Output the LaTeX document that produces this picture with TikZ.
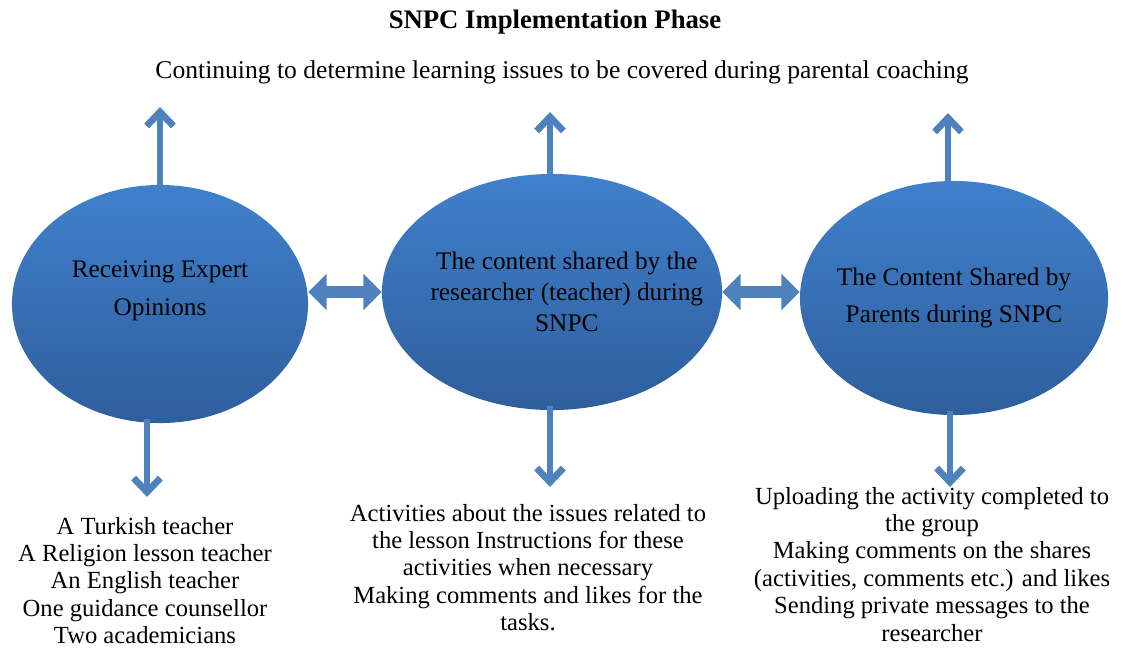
\documentclass[tikz,border=0pt]{standalone}
\usepackage{fontspec}
\setmainfont{Liberation Serif}
\usetikzlibrary{shapes, arrows.meta, positioning, calc}
\definecolor{Arrow}{RGB}{79, 129, 189}
\definecolor{BallTop}{RGB}{64, 128, 204}
\definecolor{BallBot}{RGB}{46, 94, 156}

\begin{document}
\begin{tikzpicture}[x=0.025cm, y=-0.025cm,
    ball/.style={ellipse, inner sep=0pt, top color=BallTop, bottom color=BallBot},
    balltext/.style={align=center, font=\fontsize{18}{#1}\selectfont},
    upline/.style={Arrow, line width=4.8pt, -{Straight Barb[width=19pt, length=10pt]}},
    dbl/.style={Arrow, line width=8.5pt, {Triangle[width=25pt, length=13pt]}-{Triangle[width=25pt, length=13pt]}},
    note/.style={align=center, anchor=north, font=\fontsize{17.5}{19.5}\selectfont}]
    \useasboundingbox (0,0) rectangle (1123,647);

    % heading
    \node (title) at (555, 22) {\fontsize{19}{22}\selectfont\textbf{SNPC Implementation Phase}};
    \node (issues) at (562, 72) {\fontsize{18.2}{20}\selectfont Continuing to determine learning issues to be covered during parental coaching};

    % the three phases
    \node[ball, minimum width=7.4cm, minimum height=5.95cm,
          label={[balltext=27pt, yshift=0.33cm]center:Receiving Expert\\Opinions}] (expert) at (160, 304) {};
    \node[ball, minimum width=8.5cm, minimum height=5.9cm,
          label={[balltext=22pt, xshift=0.37cm]center:The content shared by the\\researcher (teacher) during\\SNPC}] (teacher) at (552, 292) {};
    \node[ball, minimum width=7.7cm, minimum height=5.85cm,
          label={[balltext=26pt]center:The Content Shared by\\Parents during SNPC}] (parents) at (954, 298) {};

    \draw[dbl] (expert.east |- teacher.west) -- (teacher.west);
    \draw[dbl] (teacher.east) -- (parents.west |- teacher.east);

    % arrows up to the issues
    \coordinate (upA) at (160, 107);
    \coordinate (upB) at (550, 112);
    \coordinate (upC) at (948, 113);
    \draw[upline] (upA |- expert.north) -- (upA);
    \draw[upline] (upB |- teacher.north) -- (upB);
    \draw[upline] (upC |- parents.north) -- (upC);

    % what each phase holds
    \node[note] (experts) at (145, 512) {A Turkish teacher\\A Religion lesson teacher\\An English teacher\\One guidance counsellor\\Two academicians};
    \node[note] (tasks) at (528, 499) {Activities about the issues related to\\the lesson Instructions for these\\activities when necessary\\Making comments and likes for the\\tasks.};
    \node[note] (shares) at (932, 482) {Uploading the activity completed to\\the group\\Making comments on the shares\\(activities, comments etc.) and likes\\Sending private messages to the\\researcher};

    \coordinate (dnA) at (147, 497);
    \coordinate (dnB) at (550, 487);
    \coordinate (dnC) at (950, 487);
    \draw[upline] (dnA |- expert.south) ++(0,-4) -- (dnA);
    \draw[upline] (dnB |- teacher.south) ++(0,-4) -- (dnB);
    \draw[upline] (dnC |- parents.south) ++(0,-4) -- (dnC);
\end{tikzpicture}
\end{document}
